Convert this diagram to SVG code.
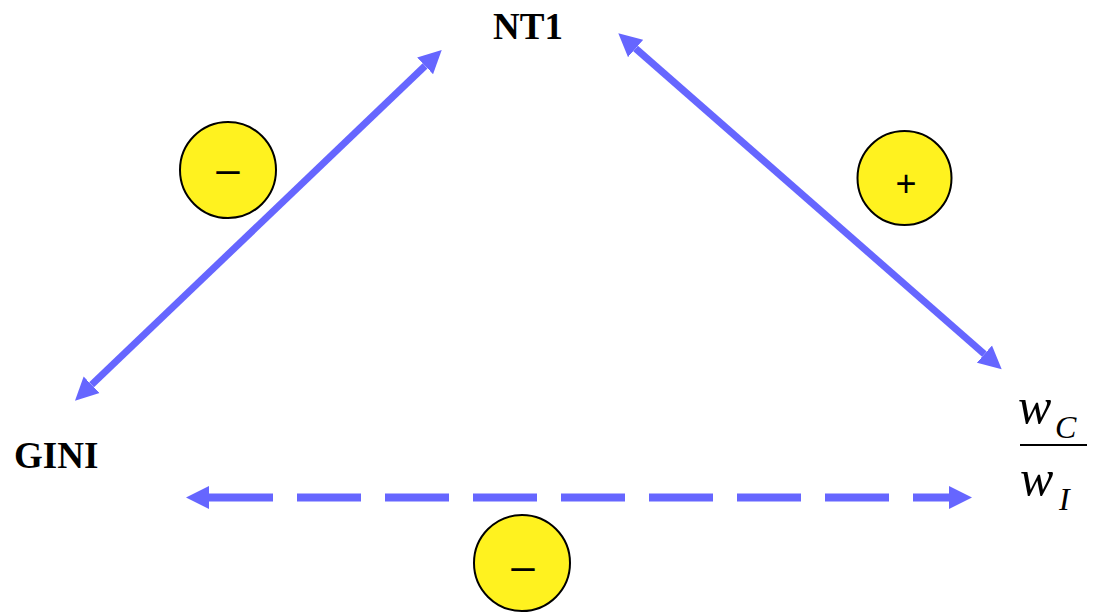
<svg xmlns="http://www.w3.org/2000/svg" width="1095" height="614" viewBox="0 0 1095 614">
<style>
.lbl{font-family:"Liberation Serif","Times New Roman",serif;font-weight:bold;font-size:37px;fill:#000}
.math{font-family:"Liberation Serif","Times New Roman",serif;font-style:italic;fill:#000}
.conn{stroke:#6666FF;stroke-width:7;fill:none}
.dash{stroke-dasharray:64 24;stroke-width:8}
.sign circle{fill:#FFF21F;stroke:#000;stroke-width:2}
.sign text{font-family:"Liberation Sans",Arial,sans-serif;font-size:36px;fill:#000;text-anchor:middle}
.sign text.minus{font-size:42px}
</style>
<defs>
<marker id="ah" markerUnits="userSpaceOnUse" markerWidth="24" markerHeight="24" viewBox="0 -12 24 24" refX="0" refY="0" orient="auto-start-reverse">
<path d="M0,-11.5 L23,0 L0,11.5 z" fill="#6666FF"/>
</marker>
</defs>
<g id="connectors">
<line class="conn" x1="91.6" y1="384.8" x2="425.1" y2="65.9" marker-start="url(#ah)" marker-end="url(#ah)"/>
<line class="conn" x1="635.6" y1="48.5" x2="984.4" y2="354.1" marker-start="url(#ah)" marker-end="url(#ah)"/>
<line class="conn dash" x1="209" y1="497.5" x2="949" y2="497.5" marker-start="url(#ah)" marker-end="url(#ah)"/>
</g>
<g id="node-nt1"><text class="lbl" x="528" y="39" text-anchor="middle">NT1</text></g>
<g id="node-gini"><text class="lbl" x="14" y="468">GINI</text></g>
<g id="node-ratio">
<text class="math" x="1018" y="423" font-size="50">w</text>
<text class="math" x="1055" y="438" font-size="32">C</text>
<line x1="1020" y1="445" x2="1087" y2="445" stroke="#000" stroke-width="2"/>
<text class="math" x="1020" y="495" font-size="50">w</text>
<text class="math" x="1059" y="510" font-size="32">I</text>
</g>
<g id="sign-left" class="sign"><circle cx="228" cy="170" r="48"/><text class="minus" x="228" y="183">–</text></g>
<g id="sign-right" class="sign"><circle cx="904.5" cy="178" r="47"/><text x="906" y="196">+</text></g>
<g id="sign-bottom" class="sign"><circle cx="522" cy="563" r="48"/><text class="minus" x="523" y="580">–</text></g>
</svg>
